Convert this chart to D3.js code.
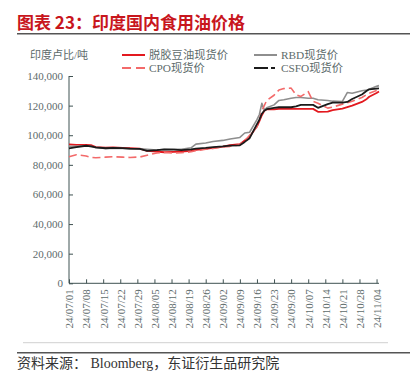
<!DOCTYPE html>
<html><head><meta charset="utf-8">
<script src="https://cdn.jsdelivr.net/npm/d3@7"></script>
<style>
body{margin:0;background:#fff;}
svg{display:block;}
</style></head>
<body>
<svg id="c" width="415" height="386"></svg>
<script>
const dates = ["2024-07-01","2024-07-04","2024-07-08","2024-07-10","2024-07-12","2024-07-16","2024-07-19","2024-07-23","2024-07-26","2024-07-30",
"2024-08-02","2024-08-06","2024-08-09","2024-08-13","2024-08-16","2024-08-20","2024-08-22","2024-08-26","2024-08-29","2024-09-02",
"2024-09-05","2024-09-09","2024-09-11","2024-09-13","2024-09-16","2024-09-17","2024-09-18","2024-09-19","2024-09-20","2024-09-23",
"2024-09-25","2024-09-27","2024-09-30","2024-10-02","2024-10-04","2024-10-07","2024-10-09","2024-10-11","2024-10-15","2024-10-17",
"2024-10-21","2024-10-23","2024-10-25","2024-10-29","2024-10-31","2024-11-01","2024-11-04","2024-11-05"];
const soybean = [93800,93500,93500,93300,92000,91600,91800,91500,91300,91000,
89500,89000,88500,88800,89000,89500,90200,90800,91500,92300,
93300,94000,96500,99000,106000,109500,113500,116500,117500,117500,
117800,117800,117800,117800,117800,117800,117800,115800,116000,117000,
118000,119000,120000,122500,124500,126000,128500,129500];
const rbd = [92500,92500,92800,92500,91500,91000,91200,91000,90800,90800,
90500,90000,90300,90500,90500,91500,94000,94800,95800,96500,
97500,98500,101500,102000,110500,114000,121500,117000,118500,120500,
123500,124000,125000,125500,125500,125000,125000,124000,123500,123000,
122800,128800,128300,130000,130500,131000,133000,133500];
const cpo = [85500,86800,86000,85000,84800,85200,85500,85200,85000,85300,
86500,88000,88300,88000,88200,88800,89500,90500,91000,92000,
92500,93500,96000,100000,105500,110000,116500,120000,123500,127000,
130500,131500,131800,127300,126200,129500,122800,121600,118300,119000,
121000,122000,123000,125500,127500,128400,130200,130600];
const csfo = [91100,92000,92900,92500,91800,91200,91500,91300,91000,90800,
89500,90000,90500,90300,90000,90500,91000,91500,92000,92500,
93000,93200,95500,98000,107500,110500,114500,116500,117600,118500,
118900,118900,118900,119500,120500,120500,120500,118500,121000,122000,
122000,122500,124500,127500,130000,131000,131500,131700];
const yTicks = [0,20000,40000,60000,80000,100000,120000,140000];
const seriesNames = ["脱胶豆油现货价","RBD现货价","CPO现货价","CSFO现货价"];
const unitLabel = "印度卢比/吨";
const titleText = "图表 23：印度国内食用油价格";
const sourceText = "资料来源： Bloomberg，东证衍生品研究院";

const parse = d3.timeParse("%Y-%m-%d");
const svg = d3.select("#c");
const serif = "'Liberation Serif','Noto Sans CJK SC',serif";
const axisColor = "#3f5252";
const labelColor = "#5d6b6b";

// Title
svg.append("text").attr("x",17).attr("y",28.5).attr("fill","#c8161d")
  .attr("font-family","'Noto Sans CJK SC',sans-serif").attr("font-weight","bold")
  .attr("font-size",17).text(titleText);
svg.append("line").attr("x1",17).attr("x2",410).attr("y1",33.7).attr("y2",33.7)
  .attr("stroke","#555").attr("stroke-width",1.5);

// Scales
const x = d3.scaleTime().domain([parse("2024-07-01"),parse("2024-11-05")]).range([69,379]);
const y = d3.scaleLinear().domain([0,140000]).range([283.3,76]);

// Y axis
const gy = svg.append("g").attr("transform","translate(69,0)")
  .call(d3.axisLeft(y).tickValues(yTicks).tickSize(-4).tickPadding(6).tickFormat(d3.format(",")));
gy.select(".domain").attr("stroke",axisColor).attr("d",`M0,${y(140000)}V${y(0)}`);
gy.selectAll(".tick line").attr("stroke",axisColor);
gy.selectAll("text").attr("fill",labelColor).attr("font-family",serif).attr("font-size",11);

// X axis
const gx = svg.append("g").attr("transform",`translate(0,${y(0)})`)
  .call(d3.axisBottom(x).ticks(d3.timeMonday.every(1)).tickSize(-4).tickFormat(d3.timeFormat("%y/%m/%d")));
gx.select(".domain").attr("stroke",axisColor).attr("d",`M69,0H379`);
gx.selectAll(".tick line").attr("stroke",axisColor);
gx.selectAll("text").attr("fill",labelColor).attr("font-family",serif).attr("font-size",11)
  .attr("transform","rotate(-90)").attr("text-anchor","end").attr("x",-6).attr("y",0).attr("dy","0.35em");

// Lines
const series = [
  {vals:soybean,color:"#e3191f",w:1.8,dash:null},
  {vals:rbd,color:"#8e8e8e",w:1.6,dash:null},
  {vals:cpo,color:"#f36a6a",w:1.6,dash:"8,4"},
  {vals:csfo,color:"#1b1b1b",w:1.8,dash:null}
];
const line = d3.line().x(d=>x(d.d)).y(d=>y(d.v));
series.forEach(s=>{
  const data = dates.map((d,i)=>({d:parse(d),v:s.vals[i]}));
  svg.append("path").datum(data).attr("d",line).attr("fill","none")
    .attr("stroke",s.color).attr("stroke-width",s.w)
    .attr("stroke-dasharray",s.dash).attr("stroke-linejoin","round");
});

// Legend
svg.append("text").attr("x",30).attr("y",59).attr("fill",labelColor)
  .attr("font-family",serif).attr("font-size",11).text(unitLabel);
const leg = [
  {x:122,y:55,color:"#e3191f",dash:null,name:seriesNames[0]},
  {x:254,y:55,color:"#8e8e8e",dash:null,name:seriesNames[1]},
  {x:122,y:68,color:"#f36a6a",dash:"9,5",name:seriesNames[2]},
  {x:254,y:68,color:"#1b1b1b",dash:"14,3,4,3",name:seriesNames[3]}
];
leg.forEach(l=>{
  svg.append("line").attr("x1",l.x).attr("x2",l.x+23).attr("y1",l.y).attr("y2",l.y)
    .attr("stroke",l.color).attr("stroke-width",2).attr("stroke-dasharray",l.dash);
  svg.append("text").attr("x",l.x+27).attr("y",l.y+4).attr("fill",labelColor)
    .attr("font-family",serif).attr("font-size",11.3).text(l.name);
});

// Footer
svg.append("line").attr("x1",23).attr("x2",388).attr("y1",342.7).attr("y2",342.7)
  .attr("stroke","#d0d0d0").attr("stroke-width",1);
svg.append("line").attr("x1",17).attr("x2",410).attr("y1",352.7).attr("y2",352.7)
  .attr("stroke","#555").attr("stroke-width",1.5);
svg.append("text").attr("x",17).attr("y",367.5).attr("fill","#333")
  .attr("font-family",serif).attr("font-size",14).text(sourceText);
</script>
</body></html>
